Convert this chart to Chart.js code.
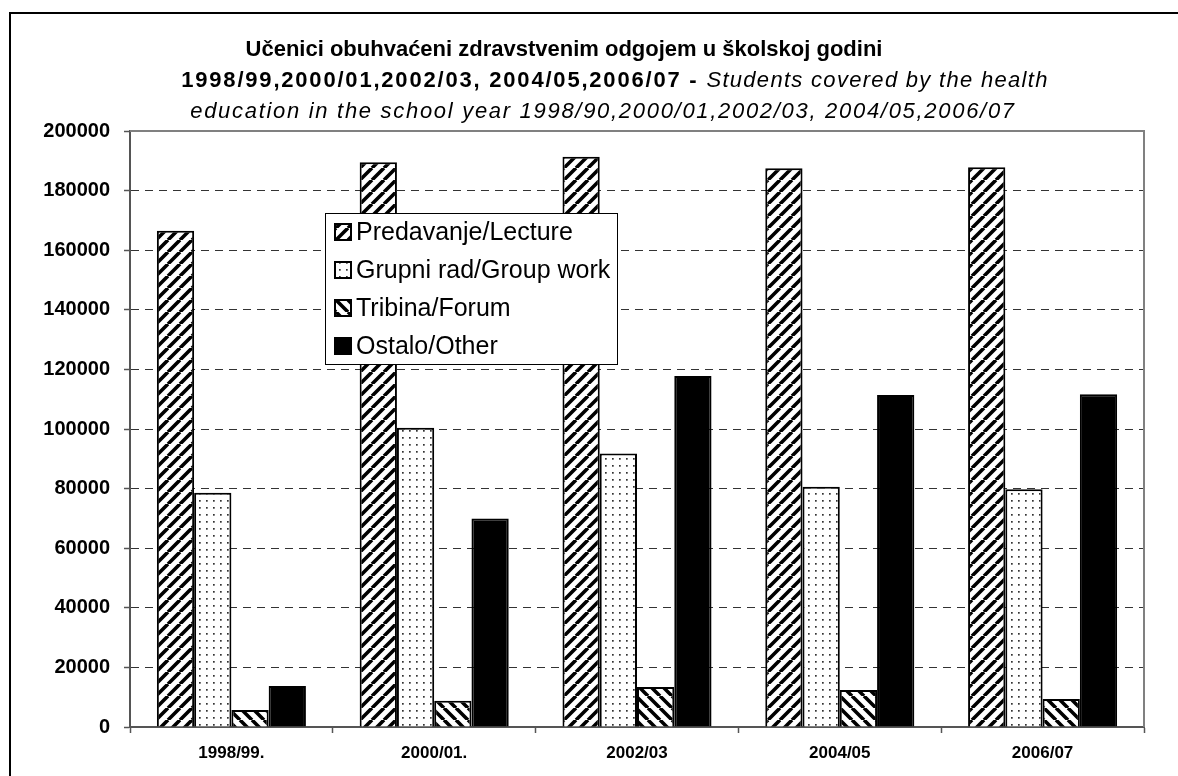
<!DOCTYPE html>
<html lang="hr">
  <head>
    <meta charset="UTF-8" />
    <title>Učenici obuhvaćeni zdravstvenim odgojem</title>
    <script src="https://cdn.jsdelivr.net/npm/chart.js"></script>
    <style>
      html,
      body {
        margin: 0;
        padding: 0;
        background: #fff;
        overflow: hidden;
      }
      body {
        width: 1178px;
        height: 776px;
        position: relative;
        font-family: "Liberation Sans", Arial, sans-serif;
      }
      #frame {
        position: absolute;
        left: 9px;
        top: 12px;
        width: 1220px;
        height: 820px;
        border: 2px solid #000;
      }
      #title div {
        position: absolute;
        width: 1000px;
        text-align: center;
        white-space: nowrap;
        font-size: 22px;
        line-height: 31px;
        color: #000;
      }
      #title .num {
        font-weight: bold;
        letter-spacing: 1.8px;
      }
      #title i {
        letter-spacing: 1.3px;
      }
      #title .l3 {
        font-style: italic;
        letter-spacing: 1.7px;
      }
      canvas {
        position: absolute;
        left: 0;
        top: 0;
      }
    </style>
  </head>
  <body>
    <canvas id="chart" width="1178" height="776"></canvas>
    <div id="frame"></div>
    <div id="title">
      <div style="left: 64px; top: 33px">
        <b>Učenici obuhvaćeni zdravstvenim odgojem u školskoj godini</b>
      </div>
      <div style="left: 115px; top: 64px">
        <span class="num">1998/99,2000/01,2002/03, 2004/05,2006/07 - </span><i>Students covered by the health</i>
      </div>
      <div class="l3" style="left: 103px; top: 95px">
        education in the school year 1998/90,2000/01,2002/03, 2004/05,2006/07
      </div>
    </div>

    <script>
      // data
      const years = ["1998/99.", "2000/01.", "2002/03", "2004/05", "2006/07"];
      const seriesNames = [
        "Predavanje/Lecture",
        "Grupni rad/Group work",
        "Tribina/Forum",
        "Ostalo/Other",
      ];
      const lecture = [166500, 189500, 191400, 187500, 187800];
      const groupWork = [78600, 100400, 91800, 80600, 79800];
      const forum = [5700, 8800, 13400, 12400, 9400];
      const other = [13800, 70000, 117800, 111400, 111700];
      const yMax = 200000;
      const yStep = 20000;

      const FONT = '"Liberation Sans", Arial, sans-serif';

      function stripes(dir) {
        const s = 12;
        const c = document.createElement("canvas");
        c.width = s;
        c.height = s;
        const g = c.getContext("2d");
        g.fillStyle = "#fff";
        g.fillRect(0, 0, s, s);
        g.strokeStyle = "#000";
        g.lineWidth = 3.6;
        g.beginPath();
        for (let k = -1; k <= 1; k++) {
          if (dir > 0) {
            g.moveTo(k * s, s);
            g.lineTo(k * s + s, 0);
          } else {
            g.moveTo(k * s, 0);
            g.lineTo(k * s + s, s);
          }
        }
        g.stroke();
        return g.createPattern(c, "repeat");
      }

      function dots() {
        const c = document.createElement("canvas");
        c.width = 7;
        c.height = 7;
        const g = c.getContext("2d");
        g.fillStyle = "#fff";
        g.fillRect(0, 0, 7, 7);
        g.fillStyle = "#333";
        g.fillRect(3, 3, 1.7, 1.7);
        return g.createPattern(c, "repeat");
      }

      const fills = [stripes(1), dots(), stripes(-1), "#000"];
      const values = [lecture, groupWork, forum, other];

      const plotFrame = {
        id: "plotFrame",
        beforeDatasetsDraw(chart) {
          const { ctx, chartArea: a } = chart;
          ctx.save();
          ctx.strokeStyle = "#808080";
          ctx.lineWidth = 2;
          ctx.beginPath();
          ctx.moveTo(a.left, a.top);
          ctx.lineTo(a.right, a.top);
          ctx.lineTo(a.right, a.bottom);
          ctx.stroke();
          ctx.restore();
        },
      };

      const boxLegend = {
        id: "boxLegend",
        afterDraw(chart) {
          const ctx = chart.ctx;
          ctx.save();
          ctx.fillStyle = "#fff";
          ctx.fillRect(325, 213, 292, 151);
          ctx.strokeStyle = "#000";
          ctx.lineWidth = 1;
          ctx.strokeRect(325.5, 213.5, 292, 151);
          ctx.font = "25px " + FONT;
          ctx.textBaseline = "middle";
          chart.data.datasets.forEach((ds, i) => {
            const cy = 232 + i * 38;
            ctx.fillStyle = ds.backgroundColor;
            ctx.fillRect(335, cy - 8, 16, 16);
            ctx.strokeStyle = "#000";
            ctx.lineWidth = 2;
            ctx.strokeRect(335, cy - 8, 16, 16);
            ctx.fillStyle = "#000";
            ctx.fillText(ds.label, 356, cy + 1);
          });
          ctx.restore();
        },
      };

      new Chart(document.getElementById("chart"), {
        type: "bar",
        data: {
          labels: years,
          datasets: seriesNames.map((name, i) => ({
            label: name,
            data: values[i],
            backgroundColor: fills[i],
            borderColor: "#000",
            borderWidth: 2,
            categoryPercentage: 0.735,
            barPercentage: 1,
          })),
        },
        options: {
          responsive: false,
          devicePixelRatio: 1,
          animation: false,
          layout: { padding: { left: 0, top: 131, right: 34, bottom: 0 } },
          plugins: {
            legend: { display: false },
            title: { display: false },
            tooltip: { enabled: false },
          },
          scales: {
            x: {
              afterFit: (s) => {
                s.height = 49;
              },
              grid: {
                offset: true,
                drawOnChartArea: false,
                tickLength: 6,
                tickColor: "#555",
                tickWidth: 1.5,
              },
              border: { color: "#555", width: 2 },
              ticks: {
                color: "#000",
                padding: 10,
                font: { family: FONT, size: 17, weight: "bold" },
              },
            },
            y: {
              min: 0,
              max: yMax,
              afterFit: (s) => {
                s.width = 130;
              },
              grid: {
                color: "#333",
                lineWidth: 1,
                tickLength: 6,
                tickColor: "#555",
                tickWidth: 1.5,
                tickBorderDash: [],
              },
              border: { color: "#555", width: 2, dash: [8, 6] },
              ticks: {
                stepSize: yStep,
                color: "#000",
                padding: 14,
                font: { family: FONT, size: 20, weight: "bold" },
                callback: (v) => String(v),
              },
            },
          },
        },
        plugins: [plotFrame, boxLegend],
      });
    </script>
  </body>
</html>
